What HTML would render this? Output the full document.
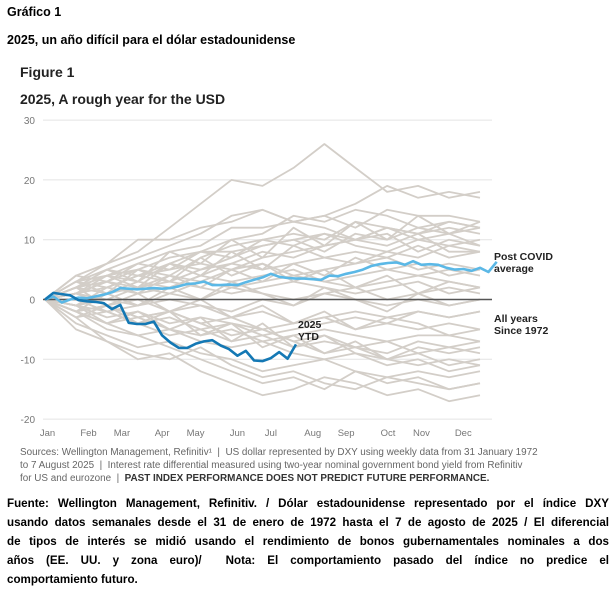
<!DOCTYPE html>
<html><head><meta charset="utf-8">
<style>
body{margin:0;width:616px;height:595px;background:#fff;font-family:"Liberation Sans",sans-serif;position:relative;overflow:hidden}
.t{position:absolute;font-weight:bold;color:#000}
.ln{position:absolute;left:7px;width:602px;font-weight:bold;font-size:11.6px;white-space:nowrap;text-align:justify;text-align-last:justify;color:#000}
.src{position:absolute;left:20px;font-size:9.9px;color:#666;white-space:nowrap}
</style></head><body>
<div class="t" style="left:7px;top:5px;font-size:12.5px">Gráfico 1</div>
<div class="t" style="left:7px;top:33px;font-size:12.5px">2025, un año difícil para el dólar estadounidense</div>
<div class="t" style="left:20px;top:64px;font-size:14px;color:#222">Figure 1</div>
<div class="t" style="left:20px;top:91px;font-size:14px;color:#222">2025, A rough year for the USD</div>
<svg id="chart" width="616" height="440" style="position:absolute;left:0;top:0"></svg>
<div class="src" style="top:447px">Sources: Wellington Management, Refinitiv¹ &nbsp;|&nbsp; US dollar represented by DXY using weekly data from 31 January 1972</div>
<div class="src" style="top:460px">to 7 August 2025 &nbsp;|&nbsp; Interest rate differential measured using two-year nominal government bond yield from Refinitiv</div>
<div class="src" style="top:473px">for US and eurozone &nbsp;|&nbsp; <b style="color:#333">PAST INDEX PERFORMANCE DOES NOT PREDICT FUTURE PERFORMANCE.</b></div>
<div class="ln" style="top:497px">Fuente: Wellington Management, Refinitiv. / Dólar estadounidense representado por el índice DXY</div>
<div class="ln" style="top:516px">usando datos semanales desde el 31 de enero de 1972 hasta el 7 de agosto de 2025 / El diferencial</div>
<div class="ln" style="top:535px">de tipos de interés se midió usando el rendimiento de bonos gubernamentales nominales a dos</div>
<div class="ln" style="top:554px">años (EE. UU. y zona euro)/ &nbsp;Nota: El comportamiento pasado del índice no predice el</div>
<div class="t" style="left:7px;top:573px;font-size:11.6px">comportamiento futuro.</div>
<script>
const months=["Jan","Feb","Mar","Apr","May","Jun","Jul","Aug","Sep","Oct","Nov","Dec"];
const monthWeeks=[0.3,5.2,9.2,14,18,23,27,32,36,41,45,50];
const yTicks=[30,20,10,0,-10,-20];
const grayYears=[
[0,3,6,8,12,16,20,19,22,26,22,18,19,17,18],
[0,2,5,7,9,11,14,15,13,12,10,9,11,8,8],
[0,4,6,10,10,12,13,15,13,14,16,19,17,18,17],
[0,3,4,6,8,9,12,12,13,14,12,15,14,14,13],
[0,1,3,5,4,7,9,10,11,10,13,12,11,12,11],
[0,2,4,3,6,8,8,9,10,11,9,8,10,9,10],
[0,1,2,4,5,6,5,7,8,9,10,11,8,10,9],
[0,3,2,4,3,5,6,5,6,7,8,7,9,7,8],
[0,1,3,2,4,3,5,6,4,5,6,7,5,6,5],
[0,2,1,3,2,4,3,4,5,3,4,5,4,5,4],
[0,-1,1,2,1,3,2,3,4,3,2,3,4,3,2],
[0,1,0,2,3,2,1,2,3,2,1,2,3,1,2],
[0,-1,0,-1,1,0,2,1,0,1,2,0,1,2,1],
[0,0,-2,-1,0,-1,-2,0,-1,1,0,-1,0,-1,0],
[0,-2,-1,-3,-2,-1,-3,-2,-4,-3,-2,-3,-2,-3,-2],
[0,-1,-3,-2,-4,-3,-4,-5,-4,-3,-5,-4,-5,-4,-5],
[0,-2,-4,-3,-5,-6,-5,-7,-6,-5,-6,-7,-6,-6,-7],
[0,-3,-2,-4,-6,-5,-7,-6,-8,-7,-8,-7,-9,-8,-9],
[0,-2,-5,-6,-5,-7,-8,-7,-9,-10,-9,-10,-11,-10,-11],
[0,-4,-6,-8,-7,-9,-10,-12,-11,-10,-12,-13,-12,-13,-12],
[0,-3,-7,-9,-10,-8,-11,-13,-12,-14,-15,-13,-14,-15,-14],
[0,-5,-7,-10,-9,-12,-14,-16,-15,-13,-14,-16,-15,-17,-16],
[0,-2,-4,-6,-8,-10,-12,-14,-13,-15,-12,-14,-13,-15,-14],
[0,1,-1,-3,-2,-4,-6,-5,-7,-9,-8,-10,-9,-11,-10],
[0,2,3,1,2,4,6,8,7,9,10,12,11,13,12],
[0,3,5,4,6,5,7,9,10,8,11,10,12,11,12],
[0,-1,-2,-4,-3,-5,-4,-6,-5,-4,-3,-4,-2,-3,-2],
[0,2,4,5,7,8,10,11,14,13,15,14,12,13,12],
[0,-2,-1,0,-2,-4,-3,-5,-7,-6,-8,-9,-7,-8,-7],
[0,4,3,6,5,8,7,10,9,11,10,12,10,11,9],
[0,-1,2,1,4,2,5,3,6,4,7,5,6,4,5],
[0,2,-1,1,-2,0,-3,-1,-4,-2,-5,-3,-4,-6,-5],
[0,-3,-1,-4,-2,-6,-4,-8,-6,-9,-7,-10,-8,-9,-8],
[0,1,4,2,6,4,8,5,9,7,6,8,7,9,8],
[0,-2,1,-1,2,0,3,1,-1,2,0,-2,1,-1,0],
[0,3,1,5,3,7,4,6,3,5,2,4,1,3,2],
[0,-1,-4,-2,-5,-3,-7,-4,-8,-6,-9,-11,-10,-12,-11],
[0,2,5,3,8,6,10,7,12,9,13,10,14,11,13]
];
const grayWeeks=[0,3.7,7.4,11.1,14.9,18.6,22.3,26,29.7,33.4,37.1,40.9,44.6,48.3,52];
const ytd2025=[0,1.1,0.9,0.7,-0.1,-0.3,-0.4,-0.6,-1.6,-0.9,-3.9,-4.1,-4.1,-3.7,-6,-7.2,-8.1,-8.1,-7.4,-7,-6.8,-7.7,-8.3,-9.4,-8.6,-10.2,-10.3,-9.8,-8.8,-9.9,-7.5];
const postCovid=[0,0.5,-0.5,0,0.3,0.2,0.5,0.8,1.2,1.9,1.8,1.7,1.8,1.9,1.8,1.9,2.2,2.6,2.7,3,2.4,2.4,2.5,2.4,2.9,3.3,3.7,4.3,3.8,3.6,3.5,3.5,3.4,3.3,4.0,3.9,4.3,4.6,5.0,5.6,5.9,6.1,6.2,5.8,6.4,5.8,5.9,5.8,5.3,5.0,5.1,4.8,5.3,4.6,6.3];
const svg=document.getElementById('chart');const NS='http://www.w3.org/2000/svg';
const X=w=>45+w*(435/52);const Y=v=>299.5-v*5.98;
function mk(t,a){const e=document.createElementNS(NS,t);for(const k in a)e.setAttribute(k,a[k]);svg.appendChild(e);return e;}
yTicks.forEach(v=>{
 if(v!==0){const g=mk('line',{x1:43,x2:492,y1:Y(v),y2:Y(v),stroke:'#e4e4e4','stroke-width':1});
 
 }
 const t=mk('text',{x:35,y:Y(v)+4,'text-anchor':'end','font-size':10,fill:'#777','font-family':'Liberation Sans'});t.textContent=v;
 
 
});
months.forEach((m,i)=>{const t=mk('text',{x:X(monthWeeks[i]),y:436,'text-anchor':'middle','font-size':9.5,fill:'#777','font-family':'Liberation Sans'});t.textContent=m;
 
 });
function path(arr,weeks,attrs,name){const d=arr.map((v,i)=>(i?'L':'M')+X(weeks?weeks[i]:i).toFixed(1)+','+Y(v).toFixed(1)).join('');
 const p=mk('path',Object.assign({d:d,fill:'none','stroke-linejoin':'round'},attrs));
 
 }
grayYears.forEach(a=>path(a,grayWeeks,{stroke:'#d3cec8','stroke-width':1.8},'historical-year-line'));
const z=mk('line',{x1:43,x2:492,y1:Y(0),y2:Y(0),stroke:'#555','stroke-width':1.4});


path(postCovid,null,{stroke:'#5bb8e6','stroke-width':2.6},'post-covid-average-line');
path(ytd2025,null,{stroke:'#1478b4','stroke-width':2.6},'ytd-2025-line');
function lbl(x,y,s,name){const t=mk('text',{x:x,y:y,'font-size':10.5,'font-weight':'bold',fill:'#222','font-family':'Liberation Sans'});t.textContent=s;
 
 }
lbl(298,328,'2025','ytd-label');lbl(298,340,'YTD','ytd-label');
lbl(494,260,'Post COVID','post-covid-label');lbl(494,272,'average','post-covid-label');
lbl(494,322,'All years','all-years-label');lbl(494,334,'Since 1972','all-years-label');
</script>
</body></html>
